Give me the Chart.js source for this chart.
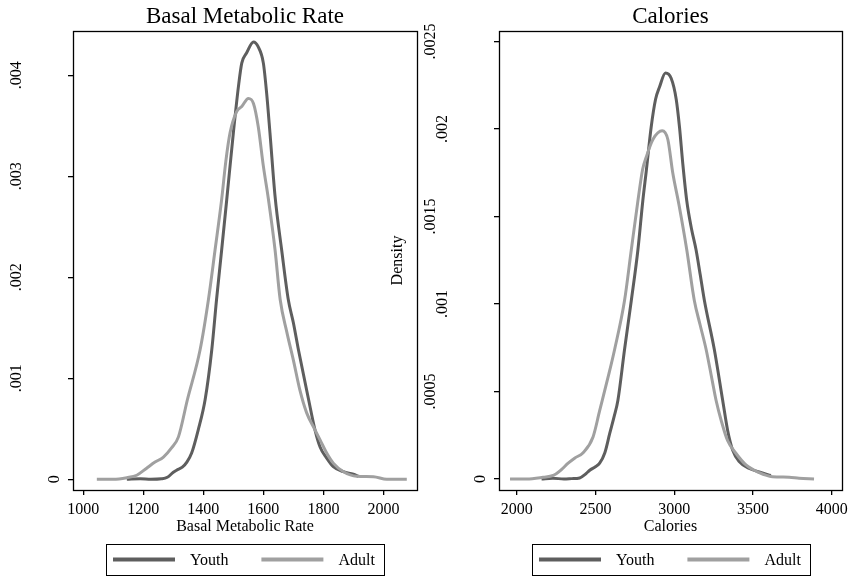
<!DOCTYPE html>
<html>
<head>
<meta charset="utf-8">
<script src="https://cdn.jsdelivr.net/npm/chart.js@4"></script>
<style>
  html, body { margin: 0; padding: 0; background: #fff; }
  #wrap { position: relative; width: 853px; height: 576px; overflow: hidden; }
  canvas { position: absolute; top: 0; }
  #bmr-chart { left: 0; }
  #cal-chart { left: 380px; }
</style>
</head>
<body>
<div id="wrap">
  <canvas id="bmr-chart" width="430" height="576"></canvas>
  <canvas id="cal-chart" width="473" height="576"></canvas>
</div>
<script>
// Basal metabolic rate densities
const bmrYouthX = [1145, 1190, 1225, 1260, 1280, 1300, 1311, 1330, 1345, 1361, 1383, 1406, 1428, 1444, 1461, 1478, 1500, 1517, 1528, 1544, 1567, 1583, 1600, 1611, 1622, 1639, 1661, 1683, 1700, 1717, 1750, 1772, 1789, 1811, 1833, 1867, 1900, 1917];
const bmrYouthY = [0, 0.000005, 0, 0.000005, 0.00002, 0.00007, 0.00009, 0.00012, 0.00017, 0.00026, 0.00049, 0.00079, 0.00128, 0.00178, 0.00227, 0.00277, 0.00343, 0.00389, 0.00412, 0.00422, 0.00433, 0.00428, 0.00412, 0.00382, 0.00343, 0.0028, 0.00227, 0.00178, 0.00155, 0.00128, 0.0008, 0.00049, 0.00032, 0.00021, 0.000125, 0.000075, 0.00005, 0.00003];
const bmrAdultX = [1045, 1100, 1145, 1178, 1211, 1239, 1267, 1294, 1317, 1347, 1389, 1417, 1439, 1461, 1475, 1489, 1511, 1528, 1550, 1567, 1583, 1600, 1617, 1639, 1656, 1678, 1700, 1722, 1744, 1772, 1789, 1811, 1833, 1867, 1911, 1967, 2011, 2078];
const bmrAdultY = [0, 0, 0.000016, 0.00004, 0.00011, 0.00017, 0.00022, 0.00031, 0.00042, 0.00079, 0.00128, 0.00178, 0.00227, 0.00277, 0.00315, 0.00343, 0.00364, 0.00369, 0.00377, 0.00372, 0.00349, 0.0031, 0.00277, 0.00227, 0.00178, 0.00146, 0.00118, 0.00088, 0.00066, 0.00049, 0.00039, 0.00026, 0.00016, 0.000075, 0.00003, 0.000026, 0, 0];

// Calories densities
const calYouthX = [2158, 2230, 2300, 2350, 2400, 2440, 2464, 2500, 2527, 2560, 2591, 2620, 2643, 2685, 2728, 2770, 2801, 2823, 2854, 2882, 2907, 2945, 2981, 3013, 3034, 3055, 3080, 3110, 3139, 3165, 3192, 3255, 3308, 3339, 3371, 3413, 3477, 3540, 3614];
const calYouthY = [0, 0.000004, 0, 0.000002, 0.000006, 0.00003, 0.00005, 0.00007, 0.00009, 0.00015, 0.00026, 0.00036, 0.00045, 0.00074, 0.00102, 0.00131, 0.00159, 0.00176, 0.00201, 0.00217, 0.00224, 0.00232, 0.00229, 0.00217, 0.00201, 0.0018, 0.00159, 0.00143, 0.00131, 0.00117, 0.00102, 0.00074, 0.00045, 0.00028, 0.000166, 0.0001, 0.00006, 0.00004, 0.00002];
const calAdultX = [1958, 2063, 2168, 2232, 2280, 2327, 2370, 2422, 2485, 2527, 2580, 2622, 2685, 2728, 2770, 2800, 2823, 2865, 2924, 2960, 2991, 3030, 3080, 3128, 3165, 3203, 3240, 3266, 3300, 3339, 3392, 3456, 3540, 3624, 3730, 3793, 3888];
const calAdultY = [0, 0, 0.00001, 0.00002, 0.00005, 0.00009, 0.00012, 0.00015, 0.00024, 0.00039, 0.00058, 0.00074, 0.00102, 0.00131, 0.00159, 0.00177, 0.00184, 0.00194, 0.00199, 0.00194, 0.00175, 0.00157, 0.00131, 0.00102, 0.00088, 0.00074, 0.00057, 0.00045, 0.00033, 0.00022, 0.000147, 0.00008, 0.000036, 0.000013, 0.00001, 0.000004, 0];

// Axis ticks and labels
const bmrXTicks = [1000, 1200, 1400, 1600, 1800, 2000];
const bmrYTicks = [0, 0.001, 0.002, 0.003, 0.004];
const bmrYLabels = ["0", ".001", ".002", ".003", ".004"];
const calXTicks = [2000, 2500, 3000, 3500, 4000];
const calYTicks = [0, 0.0005, 0.001, 0.0015, 0.002, 0.0025];
const calYLabels = ["0", ".0005", ".001", ".0015", ".002", ".0025"];
const seriesNames = ["Youth", "Adult"];

const YOUTH_COLOR = "#5e5e5e";
const ADULT_COLOR = "#a0a0a0";
const SERIF = "'Liberation Serif', 'Times New Roman', serif";

Chart.defaults.font.family = SERIF;
Chart.defaults.color = "#000";

// box around the plot area
const plotFrame = {
    id: "plotFrame",
    afterDraw(chart) {
        const { ctx, chartArea } = chart;
        ctx.save();
        ctx.strokeStyle = "#000";
        ctx.lineWidth = 1.3;
        ctx.strokeRect(Math.round(chartArea.left) + 0.5, Math.round(chartArea.top) + 0.5,
            Math.round(chartArea.right - chartArea.left), Math.round(chartArea.bottom - chartArea.top));
        ctx.restore();
    }
};

// vertical y tick labels, placed the way the original program does it
const rotatedYLabels = {
    id: "rotatedYLabels",
    afterDraw(chart, args, opts) {
        const scale = chart.scales.y;
        const ctx = chart.ctx;
        ctx.save();
        ctx.font = "16px " + SERIF;
        ctx.fillStyle = "#000";
        ctx.textAlign = "center";
        ctx.textBaseline = "middle";
        scale.ticks.forEach(function (tick, i) {
            const label = opts.labels[i];
            const px = scale.right - 6 - 12.5 * label.length;
            const py = scale.getPixelForValue(tick.value);
            ctx.save();
            ctx.translate(px, py);
            ctx.rotate(-Math.PI / 2);
            ctx.fillText(label, 0, 0);
            ctx.restore();
        });
        ctx.restore();
    }
};

// framed legend under the plot area
const boxLegend = {
    id: "boxLegend",
    afterDraw(chart) {
        const { ctx, chartArea } = chart;
        const items = chart.data.datasets;
        ctx.save();
        ctx.font = "16px " + SERIF;
        const widths = items.map(d => ctx.measureText(d.label).width);
        const lineLen = 62, gap = 15, itemGap = 33, padL = 7, padR = 9;
        let total = padL + padR;
        widths.forEach(function (w, i) { total += lineLen + gap + w + (i ? itemGap : 0); });
        let x = Math.round((chartArea.left + chartArea.right) / 2 - total / 2);
        const top = 544, h = 31, midY = top + h / 2;
        ctx.strokeStyle = "#000";
        ctx.lineWidth = 1;
        ctx.strokeRect(x + 0.5, top + 0.5, Math.round(total), h);
        x += padL;
        items.forEach(function (d, i) {
            ctx.strokeStyle = d.borderColor;
            ctx.lineWidth = 4;
            ctx.beginPath();
            ctx.moveTo(x, midY);
            ctx.lineTo(x + lineLen, midY);
            ctx.stroke();
            x += lineLen + gap;
            ctx.fillStyle = "#000";
            ctx.textAlign = "left";
            ctx.textBaseline = "middle";
            ctx.fillText(d.label, x, midY + 1);
            x += widths[i] + itemGap;
        });
        ctx.restore();
    }
};

function makeSeries(name, xs, ys, color, order) {
    return {
        label: name,
        data: xs.map((x, i) => ({ x: x, y: ys[i] })),
        borderColor: color,
        borderWidth: 3,
        pointRadius: 0,
        fill: false,
        cubicInterpolationMode: "monotone",
        order: order
    };
}

function buildChart(canvasId, cfg) {
    const ctx = document.getElementById(canvasId).getContext("2d");
    const tickGrid = { display: true, drawOnChartArea: false, drawTicks: true, tickLength: 5, lineWidth: 1.3, color: "#000", tickColor: "#000" };
    return new Chart(ctx, {
        type: "line",
        data: {
            datasets: [
                makeSeries(seriesNames[0], cfg.youthX, cfg.youthY, YOUTH_COLOR, 1),
                makeSeries(seriesNames[1], cfg.adultX, cfg.adultY, ADULT_COLOR, 0)
            ]
        },
        options: {
            responsive: false,
            animation: false,
            events: [],
            layout: { padding: { top: 0, right: cfg.padRight, bottom: 40, left: 0 } },
            plugins: {
                legend: { display: false },
                tooltip: { enabled: false },
                title: {
                    display: true,
                    text: cfg.title,
                    fullSize: false,
                    color: "#000",
                    font: { size: 23, weight: "normal" },
                    padding: { top: 3, bottom: 0.4 }
                },
                rotatedYLabels: { labels: cfg.yLabels }
            },
            scales: {
                x: {
                    type: "linear",
                    min: cfg.xMin,
                    max: cfg.xMax,
                    afterBuildTicks: function (scale) { scale.ticks = cfg.xTicks.map(v => ({ value: v })); },
                    afterFit: function (scale) { scale.height = 46; },
                    grid: tickGrid,
                    border: { display: false },
                    ticks: { padding: 5, font: { size: 16 }, color: "#000", maxRotation: 0, callback: v => String(v) },
                    title: { display: true, text: cfg.xTitle, font: { size: 16 }, color: "#000", padding: { top: 0, bottom: 0 } }
                },
                y: {
                    type: "linear",
                    min: cfg.yMin,
                    max: cfg.yMax,
                    afterBuildTicks: function (scale) { scale.ticks = cfg.yTicks.map(v => ({ value: v })); },
                    afterFit: function (scale) { scale.width = cfg.yAxisWidth; },
                    grid: tickGrid,
                    border: { display: false },
                    ticks: { display: false },
                    title: { display: !!cfg.yTitle, text: cfg.yTitle || "", font: { size: 16 }, color: "#000", padding: { top: 8, bottom: 0 } }
                }
            }
        },
        plugins: [plotFrame, rotatedYLabels, boxLegend]
    });
}

buildChart("bmr-chart", {
    title: "Basal Metabolic Rate",
    xTitle: "Basal Metabolic Rate",
    youthX: bmrYouthX, youthY: bmrYouthY,
    adultX: bmrAdultX, adultY: bmrAdultY,
    xTicks: bmrXTicks, yTicks: bmrYTicks, yLabels: bmrYLabels,
    xMin: 965.6, xMax: 2112,
    yMin: -0.000106, yMax: 0.004438,
    yAxisWidth: 73,
    padRight: 13
});

buildChart("cal-chart", {
    title: "Calories",
    xTitle: "Calories",
    yTitle: "Density",
    youthX: calYouthX, youthY: calYouthY,
    adultX: calAdultX, adultY: calAdultY,
    xTicks: calXTicks, yTicks: calYTicks, yLabels: calYLabels,
    xMin: 1888, xMax: 4065,
    yMin: -0.000063, yMax: 0.00256,
    yAxisWidth: 119,
    padRight: 10
});
</script>
</body>
</html>
